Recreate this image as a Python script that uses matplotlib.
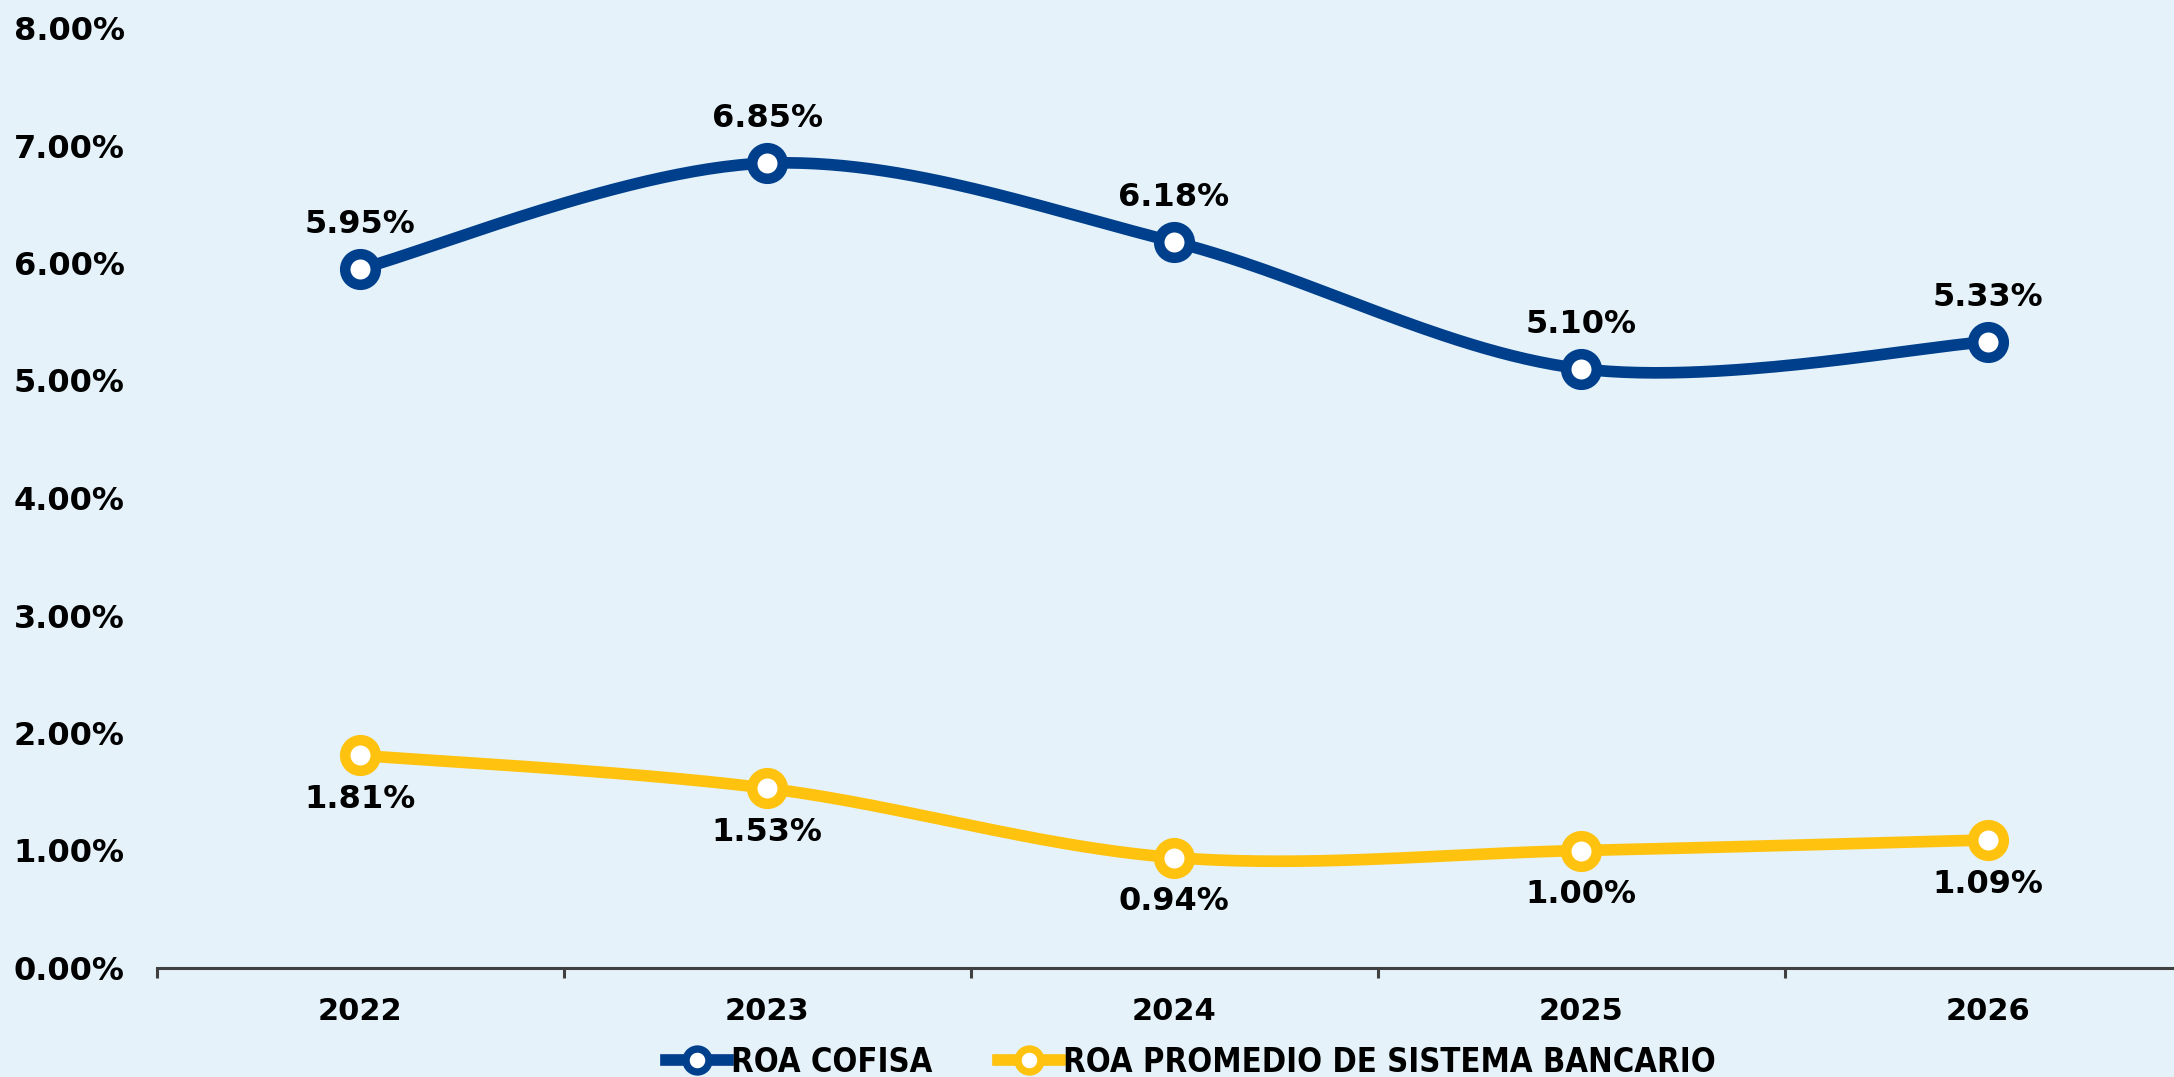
import numpy as np
import matplotlib
matplotlib.use("Agg")
import matplotlib.pyplot as plt
from matplotlib.lines import Line2D

years = ["2022", "2023", "2024", "2025", "2026"]
roa_cofisa = [5.95, 6.85, 6.18, 5.10, 5.33]
roa_sistema = [1.81, 1.53, 0.94, 1.00, 1.09]
series_names = ["ROA COFISA", "ROA PROMEDIO DE SISTEMA BANCARIO"]
yticks = [0, 1, 2, 3, 4, 5, 6, 7, 8]

BLUE = "#003F8C"
YELLOW = "#FFC20E"
BG = "#E5F2F9"

plt.rcParams['font.family'] = ['DejaVu Sans']


def smooth(x, y, n=60):
    """Excel-like smoothing: Catmull-Rom / Bezier through the data points."""
    x = np.asarray(x, float)
    y = np.asarray(y, float)
    xs, ys = [], []
    N = len(x)
    for i in range(N - 1):
        p0 = np.array([x[max(i - 1, 0)], y[max(i - 1, 0)]])
        p1 = np.array([x[i], y[i]])
        p2 = np.array([x[i + 1], y[i + 1]])
        p3 = np.array([x[min(i + 2, N - 1)], y[min(i + 2, N - 1)]])
        c1 = p1 + (p2 - p0) / 6.0
        c2 = p2 - (p3 - p1) / 6.0
        t = np.linspace(0, 1, n)[:, None]
        pts = ((1 - t) ** 3) * p1 + 3 * ((1 - t) ** 2) * t * c1 + 3 * (1 - t) * t ** 2 * c2 + t ** 3 * p2
        if i > 0:
            pts = pts[1:]
        xs.append(pts[:, 0])
        ys.append(pts[:, 1])
    return np.concatenate(xs), np.concatenate(ys)


fig = plt.figure(figsize=(21.74, 10.77), dpi=100, facecolor=BG)
left = 156.5 / 2174
right = 2191.5 / 2174
bottom = (1077 - 968) / 1077
top = (1077 - 28) / 1077
ax = fig.add_axes([left, bottom, right - left, top - bottom])
ax.set_facecolor(BG)

x = np.arange(len(years))
lw = 8.4
ms = 22.0
mew = 7.6

for vals, col, off in [(roa_cofisa, BLUE, 32), (roa_sistema, YELLOW, -32)]:
    sx, sy = smooth(x, vals)
    ax.plot(sx, sy, color=col, lw=lw, solid_capstyle='round', zorder=3)
    ax.plot(x, vals, linestyle='none', marker='o', ms=ms, mfc='white', mec=col, mew=mew, zorder=4)
    for xi, v in zip(x, vals):
        ax.annotate(f"{v:.2f}%", (xi, v), xytext=(0, off), textcoords='offset points',
                    ha='center', va='center', fontsize=23, fontweight='bold', color='black', zorder=5)

ax.set_xlim(-0.5, len(years) - 0.5)
ax.set_ylim(0, 8)
ax.set_yticks(yticks)
ax.set_yticklabels([f"{v:.2f}%" for v in yticks], fontsize=23, fontweight='bold')
ax.tick_params(axis='y', length=0, pad=23)

ax.set_xticks(x)
ax.set_xticklabels(years, fontsize=22, fontweight='bold')
ax.set_xticks(np.arange(-0.5, len(years)), minor=True)
ax.tick_params(axis='x', which='major', length=0, pad=21)
ax.tick_params(axis='x', which='minor', length=7, width=2.2, color='#404040', direction='out')

for s in ['top', 'right', 'left']:
    ax.spines[s].set_visible(False)
ax.spines['bottom'].set_color('#404040')
ax.spines['bottom'].set_linewidth(2.2)

handles = [
    Line2D([0], [0], color=BLUE, lw=lw, marker='o', ms=ms * 0.75, mfc='white', mec=BLUE, mew=mew * 0.7),
    Line2D([0], [0], color=YELLOW, lw=lw, marker='o', ms=ms * 0.75, mfc='white', mec=YELLOW, mew=mew * 0.7),
]
leg = fig.legend(handles, series_names, loc='center', bbox_to_anchor=(1191 / 2174, 15 / 1077),
                 ncol=2, frameon=False, numpoints=1, handlelength=1.9, handletextpad=0.1,
                 columnspacing=2.0, borderpad=0,
                 prop={'family': ['DejaVu Sans'], 'weight': 'bold', 'size': 23.5, 'stretch': 'condensed'})

fig.savefig("out.png", dpi=100, facecolor=BG)
